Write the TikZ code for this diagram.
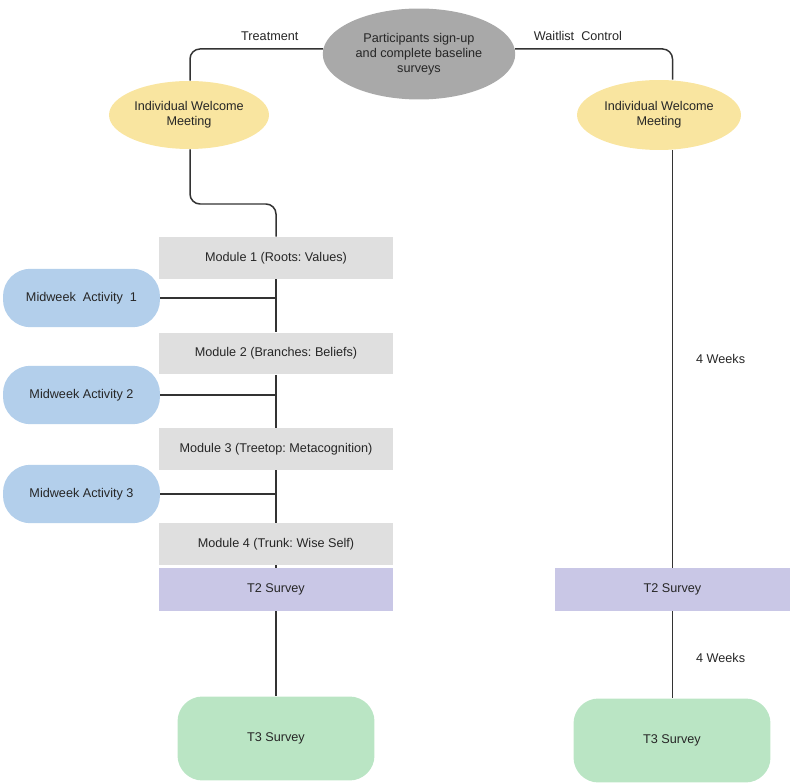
\documentclass[tikz,border=0pt]{standalone}
\usepackage{fontspec}
\setmainfont{Liberation Sans}
\usetikzlibrary{shapes.geometric}
\definecolor{startgray}{HTML}{A9A9A9}
\definecolor{welcomeyellow}{HTML}{F9E5A0}
\definecolor{modgray}{HTML}{DFDFDF}
\definecolor{activityblue}{HTML}{B3CFEB}
\definecolor{surveypurple}{HTML}{C9C7E6}
\definecolor{surveygreen}{HTML}{BAE5C4}
\definecolor{linkgray}{HTML}{333333}
\frenchspacing

\begin{document}
\begin{tikzpicture}[x=0.02cm, y=-0.02cm,
    every node/.style={font=\fontsize{7.2}{8.4}\selectfont, text=black!85},
    oval/.style={ellipse, inner sep=0pt, align=center},
    module/.style={fill=modgray, inner sep=0pt, minimum width=4.7cm, minimum height=0.84cm},
    activity/.style={fill=activityblue, rounded corners=0.55cm, inner sep=0pt,
                     minimum width=3.14cm, minimum height=1.17cm},
    tsurvey/.style={fill=surveypurple, inner sep=0pt, minimum width=4.7cm, minimum height=0.86cm},
    fsurvey/.style={fill=surveygreen, rounded corners=0.5cm, inner sep=0pt,
                    minimum width=3.94cm, minimum height=1.68cm},
    link/.style={draw=linkgray, line width=0.85pt, rounded corners=0.2cm}
]
\useasboundingbox (0,0) rectangle (790,783);

% --- baseline and welcome meetings ---
\node[oval, fill=startgray, minimum width=3.85cm, minimum height=1.82cm] (start) at (419,54)
  {Participants sign-up\\and complete baseline\\surveys};
\node[oval, fill=welcomeyellow, minimum width=3.2cm, minimum height=1.36cm] (wl) at (189,115)
  {Individual Welcome\\Meeting};
\node[oval, fill=welcomeyellow, minimum width=3.28cm, minimum height=1.4cm] (wr) at (659,115)
  {Individual Welcome\\Meeting};

% --- treatment arm ---
\node[module] (m1) at (276,258) {Module 1 (Roots: Values)};
\node[module] (m2) at (276,353.5) {Module 2 (Branches: Beliefs)};
\node[module] (m3) at (276,449) {Module 3 (Treetop: Metacognition)};
\node[module] (m4) at (276,544) {Module 4 (Trunk: Wise Self)};

\node[activity] (a1) at (81.5,298) {Midweek\ \ Activity\ \ 1};
\node[activity] (a2) at (81.5,395) {Midweek Activity 2};
\node[activity] (a3) at (81.5,494) {Midweek Activity 3};

\node[tsurvey] (t2l) at (276,589.5) {T2 Survey};
\node[fsurvey] (t3l) at (276,738.5) {T3 Survey};

% --- waitlist arm ---
\node[tsurvey] (t2r) at (672.5,589.5) {T2 Survey};
\node[fsurvey] (t3r) at (672,740.5) {T3 Survey};

\coordinate (bend) at (190,204);

% --- connectors ---
\draw[link] (start.177) -| node[pos=0.2, above=1pt] {Treatment} (wl.north -| bend);
\draw[link] (start.3) -| node[pos=0.2, above=1pt] {Waitlist\ \ Control} (wr.north -| t2r.north);
\draw[link] (wl.south -| bend) -- (bend) -| (m1.north);

\draw[link] (m1.south) -- (m2.north);
\draw[link] (m2.south) -- (m3.north);
\draw[link] (m3.south) -- (m4.north);
\draw[link] (m4.south) -- (t2l.north);
\draw[link] (t2l.south) -- (t3l.north);
\foreach \a/\m in {a1/m1, a2/m2, a3/m3}
  \draw[link] (\a.east) -- (\a.east -| \m.south);

\draw[link] (wr.south -| t2r.north) -- node[right=0.34cm] {4 Weeks} (t2r.north);
\draw[link] (t2r.south) -- node[right=0.34cm, yshift=-2pt] {4 Weeks} (t2r.south |- t3r.north);

\end{tikzpicture}
\end{document}
